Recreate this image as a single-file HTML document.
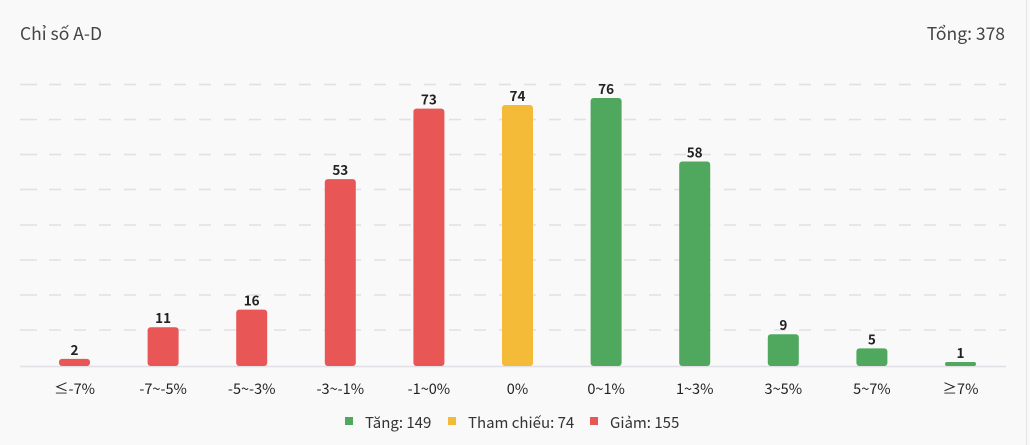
<!DOCTYPE html>
<html><head><meta charset="utf-8"><style>
html,body{margin:0;padding:0;background:#f9f9fa;}
svg{display:block;font-family:"Noto Sans CJK JP","DejaVu Sans",sans-serif;}
</style></head><body>
<svg width="1030" height="445" viewBox="0 0 1030 445" xmlns="http://www.w3.org/2000/svg">
<rect width="1030" height="445" fill="#f9f9fa"/>
<line x1="1026.5" y1="0" x2="1026.5" y2="445" stroke="#e4e4e8" stroke-width="1"/>
<text x="20" y="40" font-size="17.5" fill="#444">Chỉ số A-D</text>
<text x="1005" y="40" font-size="17.5" fill="#444" text-anchor="end">Tổng: 378</text>
<g stroke="#e0e0e6" stroke-width="1.5">
<g stroke-dasharray="12,13">
<line x1="49" y1="84.5" x2="1006" y2="84.5"/>
<line x1="49" y1="119.5" x2="1006" y2="119.5"/>
<line x1="49" y1="154.5" x2="1006" y2="154.5"/>
<line x1="49" y1="189.5" x2="1006" y2="189.5"/>
<line x1="49" y1="225" x2="1006" y2="225"/>
<line x1="49" y1="260" x2="1006" y2="260"/>
<line x1="49" y1="295" x2="1006" y2="295"/>
<line x1="49" y1="330" x2="1006" y2="330"/>
</g>
<path d="M20 84.5H37M20 119.5H37M20 154.5H37M20 189.5H37M20 225H37M20 260H37M20 295H37M20 330H37"/>
<line x1="20" y1="366.5" x2="1006" y2="366.5"/>
</g>
<g font-size="13.5" font-weight="bold" fill="#222" text-anchor="middle">
<rect x="59" y="358.9" width="31" height="7.1" rx="3" fill="#e85656"/><text x="74.5" y="355">2</text>
<rect x="147.6" y="327.2" width="31" height="38.8" rx="3" fill="#e85656"/><text x="163.1" y="323">11</text>
<rect x="236.2" y="309.6" width="31" height="56.4" rx="3" fill="#e85656"/><text x="251.7" y="305.5">16</text>
<rect x="324.8" y="179.1" width="31" height="186.9" rx="3" fill="#e85656"/><text x="340.3" y="175">53</text>
<rect x="413.4" y="108.6" width="31" height="257.4" rx="3" fill="#e85656"/><text x="428.9" y="104.5">73</text>
<rect x="502" y="105" width="31" height="261" rx="3" fill="#f3bb38"/><text x="517.5" y="101">74</text>
<rect x="590.6" y="98" width="31" height="268" rx="3" fill="#4fa85e"/><text x="606.1" y="94">76</text>
<rect x="679.2" y="161.5" width="31" height="204.5" rx="3" fill="#4fa85e"/><text x="694.7" y="157.5">58</text>
<rect x="767.8" y="334.3" width="31" height="31.7" rx="3" fill="#4fa85e"/><text x="783.3" y="330">9</text>
<rect x="856.4" y="348.4" width="31" height="17.6" rx="3" fill="#4fa85e"/><text x="871.9" y="344.5">5</text>
<rect x="945" y="362" width="31" height="4" rx="2" fill="#4fa85e"/><text x="960.5" y="358">1</text>
</g>
<g font-size="14.5" fill="#222" text-anchor="middle">
<text x="74.5" y="394">≤-7%</text>
<text x="163.1" y="394">-7~-5%</text>
<text x="251.7" y="394">-5~-3%</text>
<text x="340.3" y="394">-3~-1%</text>
<text x="428.9" y="394">-1~0%</text>
<text x="517.5" y="394">0%</text>
<text x="606.1" y="394">0~1%</text>
<text x="694.7" y="394">1~3%</text>
<text x="783.3" y="394">3~5%</text>
<text x="871.9" y="394">5~7%</text>
<text x="960.5" y="394">≥7%</text>
</g>
<g font-size="15" fill="#333">
<rect x="345" y="417" width="8" height="8" fill="#4fa85e"/><text x="365" y="428">Tăng: 149</text>
<rect x="448" y="417" width="8" height="8" fill="#f3bb38"/><text x="468" y="428">Tham chiếu: 74</text>
<rect x="590" y="417" width="8" height="8" fill="#e85656"/><text x="610" y="428">Giảm: 155</text>
</g>
</svg>
</body></html>
